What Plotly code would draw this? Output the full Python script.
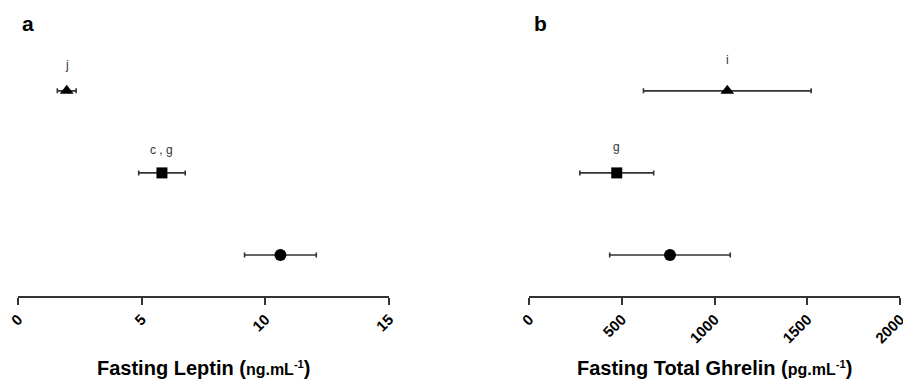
import plotly.graph_objects as go

# Group rows (top to bottom): triangle, square, circle
rows = [3, 2, 1]
symbols = ["triangle-up", "square", "circle"]
sizes = [12, 11, 12]

# Fasting leptin (ng/mL): mean and error
leptin_mean = [1.97, 5.82, 10.61]
leptin_err = [0.38, 0.94, 1.45]
leptin_labels = ["j", "c , g", ""]

# Fasting total ghrelin (pg/mL): mean and error
ghrelin_mean = [1069, 473, 760]
ghrelin_err = [452, 199, 325]
ghrelin_labels = ["i", "g", ""]

FONT = "Arial, Liberation Sans, sans-serif"
INK = "#333333"

fig = go.Figure()

for xs, errs, ax in [(leptin_mean, leptin_err, "x"), (ghrelin_mean, ghrelin_err, "x2")]:
    for i in range(3):
        fig.add_trace(go.Scatter(
            x=[xs[i]], y=[rows[i]], xaxis=ax, yaxis="y" if ax == "x" else "y2",
            mode="markers",
            marker=dict(symbol=symbols[i], size=sizes[i], color="black"),
            error_x=dict(type="data", array=[errs[i]], symmetric=True,
                         color=INK, thickness=1.6, width=2.5),
            showlegend=False, hoverinfo="skip", cliponaxis=False,
        ))

tick_font = dict(family=FONT, size=15, color="black", weight="bold")
common_x = dict(showgrid=False, zeroline=False, showline=True, linecolor=INK,
                linewidth=1.6, ticks="outside", ticklen=7, tickwidth=1.6,
                tickcolor=INK, tickangle=-45, tickfont=tick_font,
                automargin=False, ticklabeloverflow="allow")
common_y = dict(visible=False, range=[0.5, 3.62], domain=[0.2272, 0.8956],
                automargin=False)

fig.update_layout(
    width=903, height=383,
    margin=dict(l=0, r=0, t=0, b=0, autoexpand=False),
    paper_bgcolor="white", plot_bgcolor="white",
    xaxis=dict(domain=[18 / 903, 389 / 903], range=[0, 15],
               tickvals=[0, 5, 10, 15], anchor="y", **common_x),
    yaxis=dict(anchor="x", **common_y),
    xaxis2=dict(domain=[529 / 903, 900 / 903], range=[0, 2000],
                tickvals=[0, 500, 1000, 1500, 2000], anchor="y2", **common_x),
    yaxis2=dict(anchor="x2", **common_y),
)

# Significance letters above the markers
shifts_a = [26, 23, 0]
shifts_b = [31, 26, 0]
for labels, means, ax, shifts in [(leptin_labels, leptin_mean, "x", shifts_a),
                                  (ghrelin_labels, ghrelin_mean, "x2", shifts_b)]:
    for i, lab in enumerate(labels):
        if not lab:
            continue
        fig.add_annotation(x=means[i], y=rows[i], xref=ax,
                           yref="y" if ax == "x" else "y2",
                           text=lab, showarrow=False, yshift=shifts[i],
                           xanchor="center", yanchor="middle",
                           font=dict(family=FONT, size=12, color=INK))

# Panel letters
for lab, px in [("a", 28), ("b", 540)]:
    fig.add_annotation(x=px / 903, y=1 - 24 / 383, xref="paper", yref="paper",
                       text=f"<b>{lab}</b>", showarrow=False,
                       xanchor="center", yanchor="middle",
                       font=dict(family=FONT, size=21, color="black"))

# Axis titles with smaller unit text
titles = [
    ("Fasting Leptin", "ng.mL", 203.5),
    ("Fasting Total Ghrelin", "pg.mL", 714.5),
]
for name, unit, cx in titles:
    text = (f"<b>{name} (<span style='font-size:16px'>{unit}"
            f"<sup>-1</sup></span>)</b>")
    fig.add_annotation(x=cx / 903, y=1 - 368 / 383, xref="paper", yref="paper",
                       text=text, showarrow=False,
                       xanchor="center", yanchor="middle",
                       font=dict(family=FONT, size=20, color="black"))

fig.write_html("out.html")
